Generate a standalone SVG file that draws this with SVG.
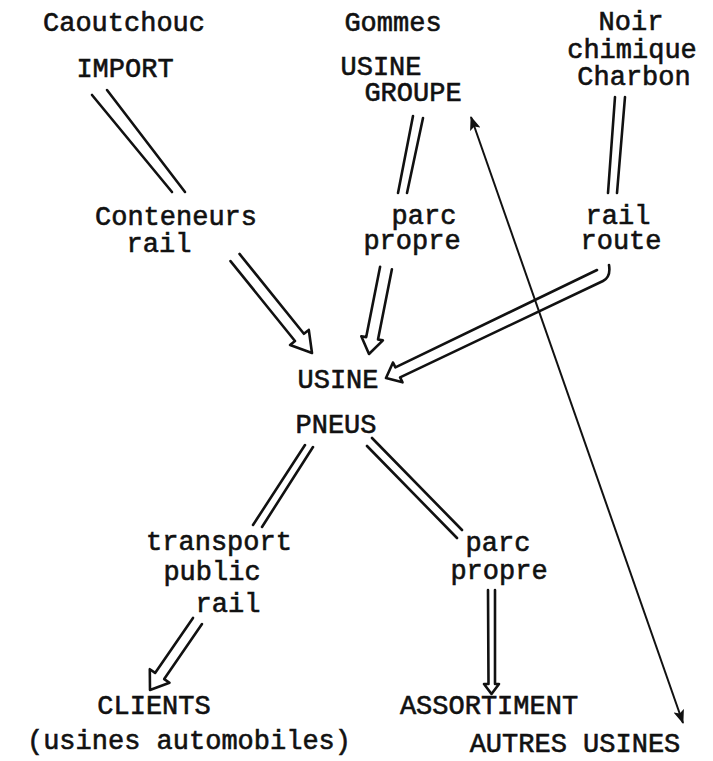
<svg xmlns="http://www.w3.org/2000/svg" width="713" height="761" viewBox="0 0 713 761">
  <style>
    .t { font-family: "Liberation Mono", "DejaVu Sans Mono", monospace; font-size: 27px; fill: #111; stroke: #111; stroke-width: 0.6; text-anchor: middle; }
    .dbl { fill: none; stroke: #111; stroke-width: 2.6; stroke-linecap: round; stroke-linejoin: round; }
    .thin { fill: none; stroke: #111; stroke-width: 2; }
  </style>
  <defs>
    <marker id="tip" viewBox="0 0 14 11" refX="13" refY="5.5" markerWidth="14" markerHeight="11" markerUnits="userSpaceOnUse" orient="auto-start-reverse">
      <path d="M0,0 L14,5.5 L0,11 L3,5.5 Z" fill="#111"/>
    </marker>
  </defs>
  <rect width="713" height="761" fill="#fff"/>

  <!-- nodes -->
  <g id="caoutchouc"><text class="t" x="124" y="31">Caoutchouc</text><text class="t" x="125" y="77">IMPORT</text></g>
  <g id="gommes"><text class="t" x="393" y="31">Gommes</text><text class="t" x="381" y="75">USINE</text><text class="t" x="413" y="101">GROUPE</text></g>
  <g id="noir"><text class="t" x="631" y="30">Noir</text><text class="t" x="632" y="58">chimique</text><text class="t" x="634" y="85">Charbon</text></g>
  <g id="conteneurs"><text class="t" x="176" y="225">Conteneurs</text><text class="t" x="159" y="252">rail</text></g>
  <g id="parc-haut"><text class="t" x="424" y="224">parc</text><text class="t" x="412" y="249">propre</text></g>
  <g id="rail-route"><text class="t" x="618" y="224">rail</text><text class="t" x="621" y="249">route</text></g>
  <g id="usine-pneus"><text class="t" x="338" y="388">USINE</text><text class="t" x="336" y="433">PNEUS</text></g>
  <g id="transport"><text class="t" x="219" y="550">transport</text><text class="t" x="212" y="580">public</text><text class="t" x="228" y="612">rail</text></g>
  <g id="parc-bas"><text class="t" x="498" y="551">parc</text><text class="t" x="499" y="579">propre</text></g>
  <g id="clients"><text class="t" x="154" y="714">CLIENTS</text><text class="t" x="189" y="749">(usines automobiles)</text></g>
  <g id="assortiment"><text class="t" x="489" y="714">ASSORTIMENT</text></g>
  <g id="autres-usines"><text class="t" x="575" y="752">AUTRES USINES</text></g>

  <!-- connectors -->
  <g id="connectors">
    <!-- plain double lines -->
    <path class="dbl" d="M92,95 L172,192 M107,90 L185,192"/>
    <path class="dbl" d="M413,116 L398,193 M423,118 L407,193"/>
    <path class="dbl" d="M615,97 L608,193 M625,97 L617,193"/>
    <path class="dbl" d="M305,445 L253,525 M313,447 L262,527"/>
    <path class="dbl" d="M372,438 L462,530 M367,446 L457,538"/>
    <!-- hollow double-line arrows -->
    <path class="dbl" d="M230.5,261.1 L295.0,341.0 L290.1,345.0 L312,353 L308.8,329.9 L303.9,333.8 L239.5,253.9"/>
    <path class="dbl" d="M380.1,266.8 L366.2,337.1 L361.3,336.2 L369,354 L382.9,340.4 L378.0,339.5 L391.9,269.2"/>
    <path class="dbl" d="M597,270 L395.4,367.4 L393.0,362.5 L386,378 L402.5,382.3 L400.1,377.4 L603,281 Q611,277 609,265"/>
    <path class="dbl" d="M193.0,617.9 L155.1,672.9 L149.8,669.2 L150,690 L169.5,682.8 L164.2,679.1 L202.0,624.1"/>
    <path class="dbl" d="M488,590 L488.5,684 L484,684 L491.5,694 L499,684 L495,684 L495,590"/>
    <!-- single line, arrowheads at both ends -->
    <line class="thin" x1="471" y1="117" x2="683" y2="723" marker-start="url(#tip)" marker-end="url(#tip)"/>
  </g>
</svg>
